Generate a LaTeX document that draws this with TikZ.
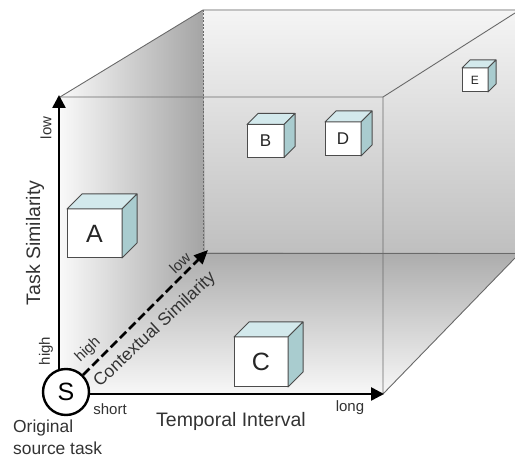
\documentclass[tikz,border=0pt]{standalone}
\usepackage{fontspec}
\setmainfont{Liberation Sans}
\usetikzlibrary{arrows.meta}
\definecolor{cubetop}{HTML}{D3E9EC}
\definecolor{cubeside}{HTML}{A9CCCF}
\definecolor{edgegray}{HTML}{6A6A6A}
\definecolor{txt}{HTML}{333333}
\pgfdeclarelayer{front}
\pgfsetlayers{main,front}
\newcommand{\mkcube}[7]{%
  \node[cubefront, minimum width=#4pt, minimum height=#5pt, font=\fontsize{#7}{#7}\selectfont] (#1) at (#2,#3) {#1};
  \filldraw[topface] (#1.north west) -- ++(#6,-#6) -- ([shift={(#6,-#6)}]#1.north east) -- (#1.north east) -- cycle;
  \filldraw[sideface] (#1.north east) -- ++(#6,-#6) -- ([shift={(#6,-#6)}]#1.south east) -- (#1.south east) -- cycle;
}
\begin{document}
\begin{tikzpicture}[x=1pt,y=-1pt,
  edge/.style={draw=edgegray, line width=0.9pt},
  hidden/.style={draw=edgegray, line width=0.9pt, dash pattern=on 2pt off 1.5pt},
  axis/.style={line width=2.6pt, -{Triangle[length=13pt,width=13pt]}},
  ctxaxis/.style={line width=2.6pt, dash pattern=on 9pt off 4pt, -{Triangle[length=14pt,width=12pt]}},
  cubefront/.style={draw=black!70, line width=1pt, fill=white, inner sep=0pt, outer sep=0pt, text=black!85},
  topface/.style={draw=black!70, line width=1pt, fill=cubetop, line join=round},
  sideface/.style={draw=black!70, line width=1pt, fill=cubeside, line join=round},
  lbl/.style={text=txt, inner sep=0pt},
  small/.style={lbl, font=\fontsize{15}{15}\selectfont},
]
\useasboundingbox (0,0) rectangle (515,457);

% walls
\shade[top color=gray!8, bottom color=gray!50] (203,10) rectangle (515,253);
\shade[left color=gray!5, right color=gray!72] (60,97) -- (203,10) -- (205,252) -- (60,394) -- cycle;
\shade[top color=gray!65, bottom color=gray!6] (60,394) -- (205,252) -- (515,253) -- (515,258) -- (383,394) -- cycle;

% edges
\draw[edge] (60,97) -- (203,10) -- (515,10);
\draw[edge] (60,97) -- (383,97) -- (515,13);
\draw[edge] (383,97) -- (383,394) -- (515,258);
\draw[edge] (205,253) -- (515,253);
\draw[hidden] (203,10) -- (203,250);

% S node (front layer)
\begin{pgfonlayer}{front}
\node[circle, draw, line width=2.4pt, fill=white, minimum size=46pt, inner sep=0pt,
      font=\fontsize{25}{25}\selectfont] (S) at (66,392) {S};
\end{pgfonlayer}

% cubes
\mkcube{A}{94.5}{233.5}{55}{49}{15}{25}
\mkcube{B}{265.5}{141}{37}{33}{11}{17}
\mkcube{D}{343}{139}{36}{34}{11}{17}
\mkcube{E}{475}{80}{26}{24}{8}{12}
\mkcube{C}{261}{362}{54}{50}{15}{25}

% axes
\coordinate (O) at (59,394);
\coordinate (Ttop) at (59,95);
\coordinate (Tend) at (384,394);
\coordinate (Cend) at (208,250);
\draw[axis] (O) -- (Ttop);
\draw[axis] (O) -- (Tend);
\draw[ctxaxis] (S) -- (Cend);

% labels
\node[lbl, font=\fontsize{19.5}{19.5}\selectfont, anchor=base] (ti) at (231,427) {Temporal Interval};
\node[lbl, font=\fontsize{19.5}{19.5}\selectfont, anchor=base, rotate=90] (ts) at (40,243) {Task Similarity};
\node[lbl, font=\fontsize{17.5}{17.5}\selectfont, rotate=43.2] (cs) at (155,330) {Contextual Similarity};
\node[small, rotate=90] (tlow) at (46,128) {low};
\node[small, rotate=90] (thigh) at (46,351) {high};
\node[small, rotate=43.2] (chigh) at (88,350) {high};
\node[small, rotate=43.2] (clow) at (180,263) {low};
\node[small] (short) at (110,409) {short};
\node[small] (long) at (350,408) {long};
\node[lbl, font=\fontsize{17.4}{17.4}\selectfont, anchor=base west] (orig1) at (13,433) {Original};
\node[lbl, font=\fontsize{17.4}{17.4}\selectfont, anchor=base west] (orig2) at (13,455) {source task};
\end{tikzpicture}
\end{document}
